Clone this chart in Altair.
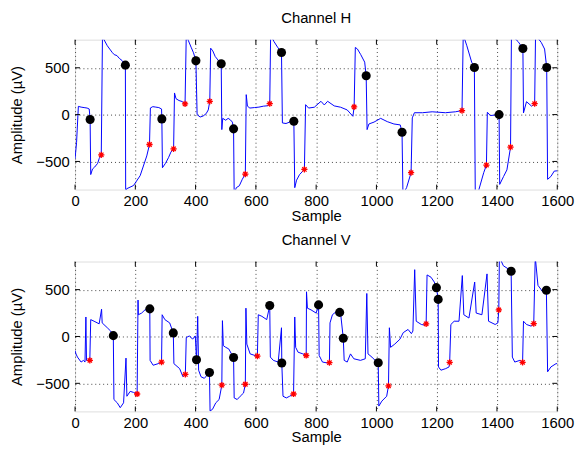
import altair as alt
import pandas as pd

# ---- Channel H signal trace ----
h_x = [0, 5, 11, 20, 30, 40, 47, 50, 52, 58, 65, 75, 80, 87, 91, 96, 107, 115, 123, 130, 139, 147, 156, 163, 167, 168,
       171, 194, 216, 238, 247, 250, 258, 268, 278, 287, 288, 290, 300, 310, 318, 327, 330, 335, 345, 355, 365,
       369, 376, 385, 393, 401, 405, 415, 425, 435, 442, 447, 450, 457, 465, 475, 485, 487, 490, 500, 508, 515, 522, 526,
       528, 535, 545, 555, 565, 568, 572, 580, 595, 610, 625, 640, 646, 649, 660, 672, 685, 688, 700, 712, 722, 726,
       729, 735, 745, 761, 765, 775, 794, 816, 827, 838, 860, 881, 903, 922, 926, 930, 937, 948, 961, 966, 969,
       975, 992, 1014, 1036, 1058, 1079, 1085, 1088, 1100, 1115, 1119, 1126, 1153, 1185, 1229, 1262, 1284, 1288,
       1300, 1316, 1325, 1328, 1340, 1356, 1365, 1368, 1378, 1407, 1409, 1422, 1433, 1445, 1448, 1470, 1486, 1488,
       1498, 1515, 1525, 1528, 1547, 1558, 1565, 1568, 1579, 1590, 1600]
h_y = [-470, -300, 88, 80, 75, 70, 60, -50, -640, -580, -560, -520, -470, -430, 850, 800, 735, 700, 665, 640, 630, 600, 577, 545, 528, -900,
       -792, -757, -652, -441, -319, 71, 85, 80, 75, 60, -46, -567, -520, -460, -400, -365, 231, 170, 150, 140, 114,
       850, 790, 720, 660, 574, 0, -26, -15, 10, 50, 142, 709, 680, 620, 580, 543, -160, -40, -60, -40, -55, -80, -152,
       -850, -780, -760, -690, -635, 213, 90, 70, 75, 80, 90, 95, 117, 850, 780, 720, 663, -89, -95, -80, -75, -71,
       -780, -700, -640, -585, 106, 70, 79, 142, 103, 142, 93, 79, 50, -18, 82, 717, 700, 640, 560, 415, -160,
       -100, -80, -40, -75, -100, -110, -188, -850, -780, -620, -35, 20, 20, 30, 20, 30, 43, 850,
       735, 560, 503, -850, -800, -620, -539, 25, -10, 0, -745, -660, -590, -348, 850, 780, 706, 18,
       138, 90, 117, 850, 770, 700, 503, -691, -660, -603, -600]

h_dot_x = [50, 167, 288, 401, 485, 526, 685, 726, 966, 1085, 1325, 1407, 1486, 1565]
h_dot_y = [-53, 528, -46, 574, 543, -152, 663, -71, 415, -188, 503, 0, 706, 503]
h_star_x = [87, 247, 327, 365, 447, 565, 646, 761, 926, 1115, 1284, 1365, 1445, 1525]
h_star_y = [-429, -319, -365, 114, 142, -635, 117, -585, 82, -620, 43, -539, -348, 117]

# ---- Channel V signal trace ----
v_x = [0, 3, 8, 20, 28, 33, 36, 38, 49, 52, 63, 80, 88, 90, 107, 118, 127, 129, 140, 150, 161, 169, 172, 183, 194, 206,
       209, 210, 221, 232, 248, 249, 259, 276, 287, 289, 298, 314, 326, 328, 347, 358, 366, 369, 380, 390, 399, 403,
       407, 410, 418, 429, 446, 448, 456, 467, 478, 487, 489, 492, 500, 510, 519, 526, 528, 538, 548, 559, 565, 567,
       570, 581, 597, 605, 608, 620, 636, 646, 648, 658, 674, 685, 686, 690, 701, 712, 725, 729, 732, 740, 756, 767,
       768, 771, 783, 800, 808, 810, 821, 838, 844, 846, 854, 870, 878, 881, 890, 893, 903, 914, 925, 947, 963, 968,
       972, 985, 1001, 1006, 1008, 1018, 1034, 1040, 1043, 1047, 1061, 1078, 1089, 1105, 1116, 1121, 1127, 1132,
       1149, 1159, 1165, 1168, 1181, 1192, 1199, 1205, 1206, 1214, 1230, 1241, 1243, 1247, 1258, 1274, 1285, 1290,
       1307, 1326, 1331, 1350, 1367, 1372, 1394, 1403, 1406, 1408, 1421, 1438, 1447, 1451, 1459, 1476, 1485, 1488,
       1498, 1514, 1522, 1527, 1536, 1552, 1564, 1568, 1579, 1596, 1600]
v_y = [-150, -186, -220, -273, -255, -273, 208, -255, -255, 180, 163, 135, 291, 145, 93, 58, 9, -673, -708, -760, -708, -231, -638, -586, -597, -614,
       389, 232, 250, 284, 295, -255, -307, -290, -273, 232, 180, 145, 38, -290, -343, -430, -405, -11, 6, -29, 6, -248,
       215, -360, -430, -447, -384, -795, -778, -708, -673, -520, 169, -98, -116, -133, -186, -224, -656, -673, -638, -604, -510, 302,
       -81, -186, -203, -210, 232, 215, 180, 330, -220, -255, -273, 93, -283, -638, -656, -638, -614, 208, -116, -168, -186, -203,
       477, 302, 284, 250, 337, -203, -273, -283, -280, 145, 232, 274, 257, 250, -19, -255, -273, -186, -238, -255, -238, 459,
       -186, -220, -273, -280, -743, -690, -638, -527, 93, -116, -81, -29, 41, 75, 30, 58, 713, 163,
       128, 122, 135, 657, 633, 581, 521, 396, -325, -360, -343, -325, -276, 128, 163, 163, 650, 232,
       197, 581, 250, 232, 668, 163, 128, 145, 284, 850, 755, 720, 696, -220, -273, -255, -276, 163,
       128, 110, 138, 850, 546, 477, 480, -377, -325, -290, -290]

v_dot_x = [127, 248, 326, 403, 446, 526, 646, 686, 808, 878, 890, 1006, 1199, 1205, 1447, 1564]
v_dot_y = [9, 295, 38, -248, -384, -224, 330, -283, 337, 257, -19, -280, 521, 396, 696, 493]
v_star_x = [49, 206, 287, 366, 487, 565, 605, 725, 767, 844, 1040, 1165, 1243, 1406, 1485, 1522]
v_star_y = [-255, -614, -273, -405, -520, -510, -210, -614, -203, -280, -527, 135, -276, 284, -276, 138]

x_ticks = [0, 200, 400, 600, 800, 1000, 1200, 1400, 1600]
y_ticks = [-500, 0, 500]

W, H = 489, 152
FONT = "Liberation Sans"
FS = 15
ASTERISK = "M-1,0L1,0M0,-1L0,1M-0.7,-0.7L0.7,0.7M-0.7,0.7L0.7,-0.7"


def panel(title, tx, ty, dx, dy, sx, sy):
    line_df = pd.DataFrame({"x": tx, "y": ty, "i": list(range(len(tx)))})
    dot_df = pd.DataFrame({"x": dx, "y": dy})
    star_df = pd.DataFrame({"x": sx, "y": sy})
    xs = alt.Scale(domain=[0, 1600], nice=False, zero=False)
    ys = alt.Scale(domain=[-800, 800], nice=False, zero=False)
    xax = alt.Axis(values=x_ticks, format="d", title="Sample", grid=True, gridDash=[1, 3], gridColor="#444",
                   ticks=False, domain=False, labelPadding=4, titlePadding=0, labelFontSize=FS,
                   titleFontSize=FS, labelFont=FONT, titleFont=FONT, titleFontWeight="normal",
                   labelColor="black", titleColor="black", labelFlush=False)
    yax = alt.Axis(values=y_ticks, format="d", title="Amplitude (µV)", grid=True, gridDash=[1, 3], gridColor="#444",
                   ticks=False, domain=False, labelPadding=6, titlePadding=12, labelFontSize=FS,
                   titleFontSize=FS, labelFont=FONT, titleFont=FONT, titleFontWeight="normal",
                   labelColor="black", titleColor="black")
    line = alt.Chart(line_df).mark_line(color="#0000ff", strokeWidth=1, clip=True).encode(
        x=alt.X("x:Q", scale=xs, axis=xax),
        y=alt.Y("y:Q", scale=ys, axis=yax),
        order="i:Q",
    )
    dots = alt.Chart(dot_df).mark_point(shape="circle", filled=True, color="black", size=85, opacity=1).encode(
        x=alt.X("x:Q", scale=xs), y=alt.Y("y:Q", scale=ys))
    stars = alt.Chart(star_df).mark_point(shape=ASTERISK, filled=False, color="#ff0000", size=40,
                                          strokeWidth=1.3, opacity=1).encode(
        x=alt.X("x:Q", scale=xs), y=alt.Y("y:Q", scale=ys))
    xt = pd.DataFrame({"t": x_ticks})
    yt = pd.DataFrame({"t": y_ticks})
    tb = alt.Chart(xt).mark_rule(color="black", strokeWidth=1).encode(
        x=alt.X("t:Q", scale=xs), y=alt.value(H), y2=alt.value(H - 5))
    tt = alt.Chart(xt).mark_rule(color="black", strokeWidth=1).encode(
        x=alt.X("t:Q", scale=xs), y=alt.value(0), y2=alt.value(5))
    tl = alt.Chart(yt).mark_rule(color="black", strokeWidth=1).encode(
        y=alt.Y("t:Q", scale=ys), x=alt.value(0), x2=alt.value(5))
    tr = alt.Chart(yt).mark_rule(color="black", strokeWidth=1).encode(
        y=alt.Y("t:Q", scale=ys), x=alt.value(W), x2=alt.value(W - 5))
    return alt.layer(line, dots, stars, tb, tt, tl, tr).properties(
        width=W, height=H,
        title=alt.TitleParams(title, fontSize=FS, font=FONT, fontWeight="normal", color="black", offset=13),
    )


top = panel("Channel H", h_x, h_y, h_dot_x, h_dot_y, h_star_x, h_star_y)
bot = panel("Channel V", v_x, v_y, v_dot_x, v_dot_y, v_star_x, v_star_y)

chart = alt.vconcat(top, bot, spacing=9).properties(padding=0).configure_view(
    stroke="black", strokeWidth=1).configure(background="white")

chart.save("out.html", embed_options={"renderer": "svg", "actions": False})
